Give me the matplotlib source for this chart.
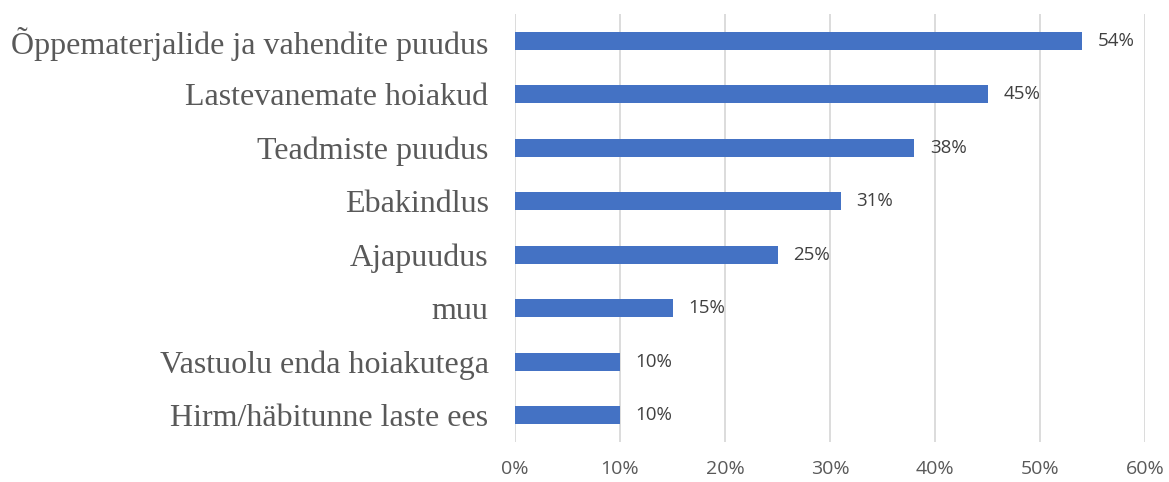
import matplotlib.pyplot as plt
from matplotlib.ticker import PercentFormatter

categories = ['Õppematerjalide ja vahendite puudus', 'Lastevanemate hoiakud',
              'Teadmiste puudus', 'Ebakindlus', 'Ajapuudus', 'muu',
              'Vastuolu enda hoiakutega', 'Hirm/häbitunne laste ees']
values = [54, 45, 38, 31, 25, 15, 10, 10]

fig = plt.figure(figsize=(11.69, 4.82), dpi=100)
ax = fig.add_axes([515 / 1169, 1 - 442 / 482, 630 / 1169, 428 / 482])

y = list(range(len(categories)))[::-1]
ax.barh(y, values, height=0.34, color='#4472C4', zorder=3)
for yi, v in zip(y, values):
    ax.text(v + 1.5, yi, f'{v}%', va='center', ha='left', fontsize=13.5,
            color='#404040', family='Open Sans')

ax.set_xlim(0, 60)
ax.set_ylim(-0.5, len(categories) - 0.5)
ax.set_xticks(range(0, 61, 10))
ax.xaxis.set_major_formatter(PercentFormatter(decimals=0))
ax.set_yticks(y)
ax.set_yticklabels(categories, family='Liberation Serif', fontsize=23, color='#595959')
ax.tick_params(axis='y', length=0, pad=19)
ax.tick_params(axis='x', length=0, pad=13, labelsize=14, labelcolor='#595959')
for lbl in ax.get_xticklabels():
    lbl.set_family('Open Sans')
ax.grid(axis='x', color='#D9D9D9', linewidth=1.3, zorder=0)
for s in ax.spines.values():
    s.set_visible(False)

fig.savefig('out.png', dpi=100)
